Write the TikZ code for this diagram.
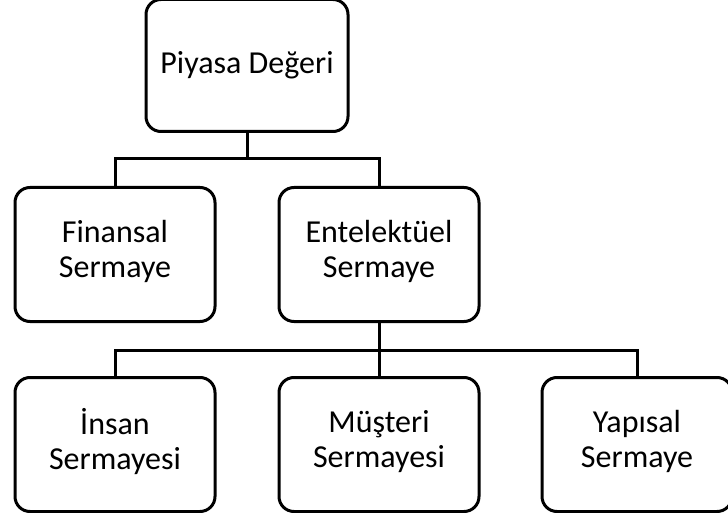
\documentclass[tikz,border=0pt]{standalone}
\usepackage{fontspec}
\setmainfont{Carlito}
\usetikzlibrary{positioning,calc}

\begin{document}
\begin{tikzpicture}[
  x=1pt,y=1pt,
  node distance=53pt and 61pt,
  box/.style={draw=black,line width=3pt,rounded corners=15pt,fill=white,minimum width=200pt,minimum height=134pt,align=center,font=\fontsize{32}{35}\selectfont,inner sep=0pt,execute at begin node={\vphantom{İ}},execute at end node=\strut},
  conn/.style={line width=3pt,color=black}
]
  \useasboundingbox (0,0) rectangle (728,-513);
  \node[box] (finansal) at (115,-254.5) {Finansal\\Sermaye};
  \node[box,right=of finansal] (entelektuel) {Entelektüel\\Sermaye};
  \node[box,minimum width=202pt,minimum height=132pt,anchor=south] (piyasa) at ($(finansal.north)!0.5!(entelektuel.north)+(0,53)$) {Piyasa Değeri};
  \node[box,below=of finansal] (insan) {İnsan\\Sermayesi};
  \node[box,right=of insan] (musteri) {Müşteri\\Sermayesi};
  \node[box,right=60pt of musteri,minimum width=190pt] (yapisal) {Yapısal\\Sermaye};
  \draw[conn] (piyasa.south) -- ++(0,-26) -| (finansal.north);
  \draw[conn] (piyasa.south) -- ++(0,-26) -| (entelektuel.north);
  \draw[conn] (entelektuel.south) -- ++(0,-27) -| (insan.north);
  \draw[conn] (entelektuel.south) -- ++(0,-27) -| (musteri.north);
  \draw[conn] (entelektuel.south) -- ++(0,-27) -| (yapisal.north);
\end{tikzpicture}
\end{document}
